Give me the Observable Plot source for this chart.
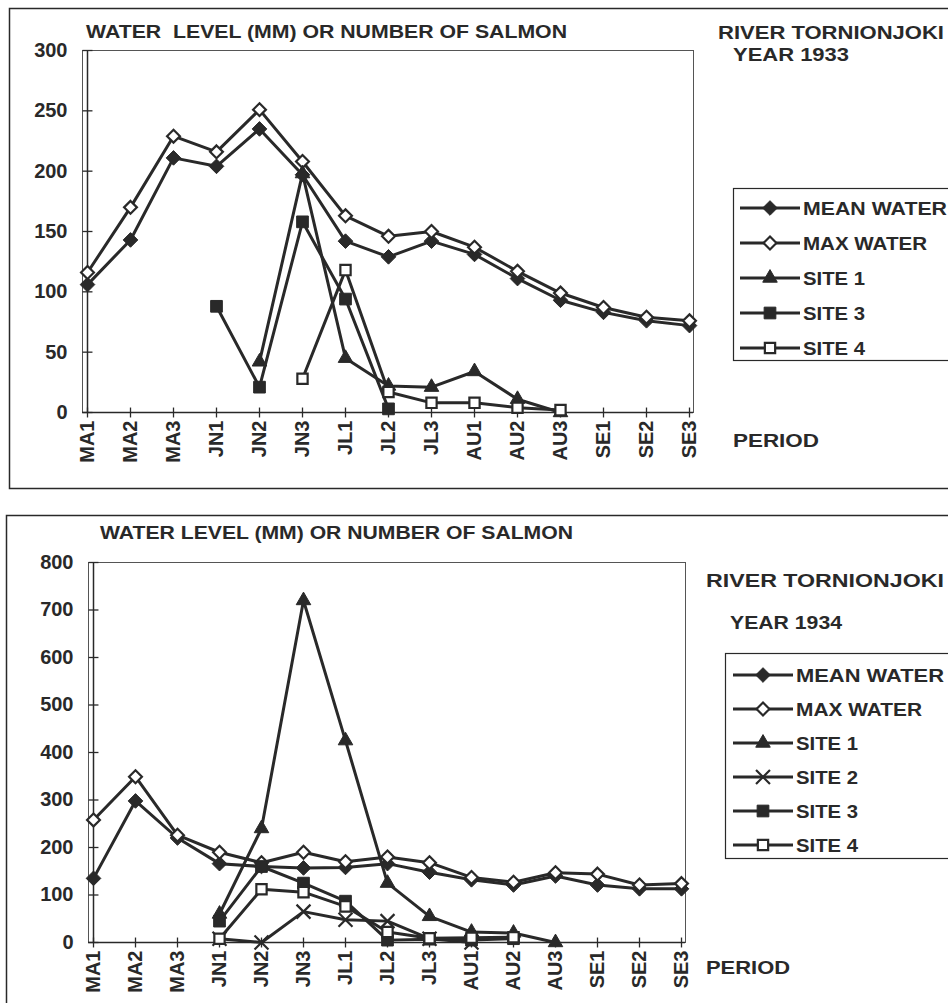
<!DOCTYPE html>
<html>
<head>
<meta charset="utf-8">
<script src="https://cdn.jsdelivr.net/npm/d3@7"></script>
<script src="https://cdn.jsdelivr.net/npm/@observablehq/plot@0.6"></script>
<style>
  html, body { margin: 0; padding: 0; background: #fff; }
  #page { position: relative; width: 948px; height: 1003px; overflow: hidden; background: #fff; }
  #page svg { position: absolute; left: 0; }
</style>
</head>
<body>
<div id="page"></div>
<script>
// Ten-day periods, May to September
const periods = ["MA1","MA2","MA3","JN1","JN2","JN3","JL1","JL2","JL3","AU1","AU2","AU3","SE1","SE2","SE3"];

// 1933: water level (mm) and salmon counts per site
const mean1933  = [106,143,211,204,235,197,142,129,142,131,111,93,83,76,72];
const max1933   = [116,170,229,216,251,208,163,146,150,137,117,99,87,79,76];
const site1_1933 = [null,null,null,null,42,198,45,22,21,34,11,0,null,null,null];
const site3_1933 = [null,null,null,88,21,158,94,3,null,null,null,null,null,null,null];
const site4_1933 = [null,null,null,null,null,28,118,17,8,8,4,2,null,null,null];
const yTicks1933 = [0,50,100,150,200,250,300];

// 1934: water level (mm) and salmon counts per site
const mean1934  = [135,298,220,166,160,157,158,166,148,132,121,140,121,113,113];
const max1934   = [258,349,226,190,168,190,170,180,168,137,127,147,144,121,124];
const site1_1934 = [null,null,null,60,240,720,425,125,55,22,20,0,null,null,null];
const site2_1934 = [null,null,null,8,0,65,48,45,8,0,null,null,null,null,null];
const site3_1934 = [null,null,null,45,160,125,87,5,7,5,8,null,null,null,null];
const site4_1934 = [null,null,null,8,112,106,76,22,9,10,11,null,null,null,null];
const yTicks1934 = [0,100,200,300,400,500,600,700,800];

const INK = "#292929";
const FONT = "'Liberation Sans', Arial, Helvetica, sans-serif";

// short cross ticks on the axes
const hTick = {draw(ctx, size) { const r = Math.sqrt(size) / 2; ctx.moveTo(-r, 0); ctx.lineTo(r, 0); }};
const vTick = {draw(ctx, size) { const r = Math.sqrt(size) / 2; ctx.moveTo(0, -r); ctx.lineTo(0, r); }};

// marker styles per series
const STYLES = {
  "MEAN WATER": {symbol: d3.symbolDiamond2, r: 6.6, fill: INK, sw: 1},
  "MAX WATER":  {symbol: d3.symbolDiamond2, r: 5.8, fill: "#fff", sw: 2.2},
  "SITE 1":     {symbol: d3.symbolTriangle, r: 5.4, fill: INK, sw: 1},
  "SITE 2":     {symbol: d3.symbolTimes, r: 6.4, fill: "none", sw: 2.2},
  "SITE 3":     {symbol: d3.symbolSquare, r: 6.6, fill: INK, sw: 1},
  "SITE 4":     {symbol: d3.symbolSquare, r: 5.8, fill: "#fff", sw: 2.2}
};

function seriesMarks(series) {
  return series.flatMap(({name, values}) => {
    const st = STYLES[name];
    const rows = periods.map((period, i) => ({period, value: values[i]})).filter(d => d.value != null);
    return [
      Plot.line(rows, {x: "period", y: "value", stroke: INK, strokeWidth: 3}),
      Plot.dot(rows, {x: "period", y: "value", symbol: st.symbol, r: st.r, fill: st.fill, stroke: INK, strokeWidth: st.sw})
    ];
  });
}

function chart({series, yMax, yTicks, height, margins}) {
  return Plot.plot({
    width: 948,
    height,
    ...margins,
    style: {fontFamily: FONT, color: INK, background: "transparent", overflow: "visible"},
    x: {type: "point", domain: periods, padding: 0, label: null},
    y: {domain: [0, yMax], label: null},
    marks: [
      Plot.frame({stroke: "#555", strokeWidth: 1}),
      Plot.ruleX([periods[0]], {stroke: INK, strokeWidth: 1.5}),
      Plot.ruleY([0], {stroke: INK, strokeWidth: 1.5}),
      Plot.dot(yTicks, {x: () => periods[0], y: d => d, symbol: hTick, r: 5.6, fill: "none", stroke: INK, strokeWidth: 1.3}),
      Plot.dot(periods, {x: d => d, y: () => 0, symbol: vTick, r: 5.6, fill: "none", stroke: INK, strokeWidth: 1.3}),
      Plot.axisY(yTicks, {anchor: "left", tickSize: 0, tickPadding: 15, fontSize: 20, fontWeight: "bold"}),
      Plot.axisX({anchor: "bottom", tickSize: 0, tickPadding: 8, tickRotate: -90, fontSize: 20, fontWeight: "bold"}),
      ...seriesMarks(series)
    ]
  });
}

function addText(svg, str, x, y, size, len) {
  const t = d3.select(svg).append("text")
    .attr("x", x).attr("y", y).attr("text-anchor", "start")
    .attr("font-family", FONT).attr("font-size", size).attr("font-weight", "bold")
    .attr("fill", INK).text(str);
  if (len) t.attr("textLength", len).attr("lengthAdjust", "spacingAndGlyphs");
}

function addBorder(svg, x, y, w, h) {
  d3.select(svg).insert("rect", ":first-child")
    .attr("x", x).attr("y", y).attr("width", w).attr("height", h)
    .attr("fill", "none").attr("stroke", INK).attr("stroke-width", 1.5);
}

function addLegend(svg, names, box, rowY, lineX, textX, textLens) {
  const g = d3.select(svg).append("g");
  g.append("rect").attr("x", box.x).attr("y", box.y).attr("width", box.w).attr("height", box.h)
    .attr("fill", "#fff").attr("stroke", INK).attr("stroke-width", 1.2);
  names.forEach((name, i) => {
    const st = STYLES[name];
    const y = rowY[i];
    g.append("line").attr("x1", lineX[0]).attr("x2", lineX[1]).attr("y1", y).attr("y2", y)
      .attr("stroke", INK).attr("stroke-width", 3);
    g.append("path").attr("transform", `translate(${(lineX[0] + lineX[1]) / 2},${y})`)
      .attr("d", d3.symbol(st.symbol, Math.PI * st.r * st.r)())
      .attr("fill", st.fill).attr("stroke", INK).attr("stroke-width", st.sw);
    const t = g.append("text").attr("x", textX).attr("y", y + 7).attr("text-anchor", "start")
      .attr("font-family", FONT).attr("font-size", 19).attr("font-weight", "bold")
      .attr("fill", INK).text(name);
    if (textLens[i]) t.attr("textLength", textLens[i]).attr("lengthAdjust", "spacingAndGlyphs");
  });
}

const page = document.getElementById("page");

// ---- 1933 ----
const top1933 = chart({
  series: [
    {name: "MEAN WATER", values: mean1933},
    {name: "MAX WATER", values: max1933},
    {name: "SITE 1", values: site1_1933},
    {name: "SITE 3", values: site3_1933},
    {name: "SITE 4", values: site4_1933}
  ],
  yMax: 300, yTicks: yTicks1933, height: 495,
  margins: {marginLeft: 82, marginRight: 255, marginTop: 50, marginBottom: 83}
});
top1933.style.top = "0px";
addBorder(top1933, 9.5, 8.5, 980, 480);
addText(top1933, "WATER  LEVEL (MM) OR NUMBER OF SALMON", 86, 38, 19, 481);
addText(top1933, "RIVER TORNIONJOKI", 718, 39, 19, 226);
addText(top1933, "YEAR 1933", 733, 61, 19, 116);
addText(top1933, "PERIOD", 733, 447, 19, 86);
addLegend(top1933, ["MEAN WATER", "MAX WATER", "SITE 1", "SITE 3", "SITE 4"],
  {x: 733.5, y: 188.5, w: 260, h: 172}, [208, 243, 278, 313, 348], [740, 800], 803,
  [144, 124, 62, 62, 62]);
page.appendChild(top1933);

// ---- 1934 ----
const bottom1934 = chart({
  series: [
    {name: "MEAN WATER", values: mean1934},
    {name: "MAX WATER", values: max1934},
    {name: "SITE 1", values: site1_1934},
    {name: "SITE 2", values: site2_1934},
    {name: "SITE 3", values: site3_1934},
    {name: "SITE 4", values: site4_1934}
  ],
  yMax: 800, yTicks: yTicks1934, height: 503,
  margins: {marginLeft: 88, marginRight: 263, marginTop: 62, marginBottom: 61}
});
bottom1934.style.top = "500px";
addBorder(bottom1934, 6.5, 15.5, 980, 600);
addText(bottom1934, "WATER LEVEL (MM) OR NUMBER OF SALMON", 100, 39, 19, 473);
addText(bottom1934, "RIVER TORNIONJOKI", 706, 87, 19, 238);
addText(bottom1934, "YEAR 1934", 730, 129, 19, 112);
addText(bottom1934, "PERIOD", 706, 474, 19, 84);
addLegend(bottom1934, ["MEAN WATER", "MAX WATER", "SITE 1", "SITE 2", "SITE 3", "SITE 4"],
  {x: 725.5, y: 153.5, w: 260, h: 205}, [175, 209, 243, 277, 311, 345], [733, 793], 796,
  [148, 126, 62, 62, 62, 62]);
page.appendChild(bottom1934);
</script>
</body>
</html>
